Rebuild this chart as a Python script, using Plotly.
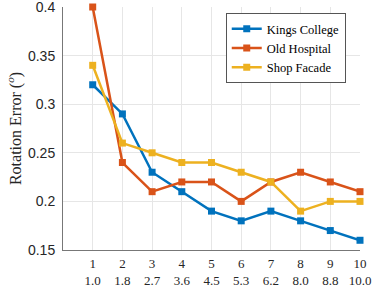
import plotly.graph_objects as go

x = [1, 2, 3, 4, 5, 6, 7, 8, 9, 10]
x_labels2 = ["1.0", "1.8", "2.7", "3.6", "4.5", "5.3", "6.2", "8.0", "8.8", "10.0"]
kings = [0.32, 0.29, 0.23, 0.21, 0.19, 0.18, 0.19, 0.18, 0.17, 0.16]
hospital = [0.40, 0.24, 0.21, 0.22, 0.22, 0.20, 0.22, 0.23, 0.22, 0.21]
shop = [0.34, 0.26, 0.25, 0.24, 0.24, 0.23, 0.22, 0.19, 0.20, 0.20]

series = [("Kings College", kings, "#0072BD"),
          ("Old Hospital", hospital, "#D95319"),
          ("Shop Facade", shop, "#EDB120")]

fig = go.Figure()
for name, vals, col in series:
    fig.add_trace(go.Scatter(x=x, y=vals, name=name, mode="lines+markers",
                             line=dict(color=col, width=2.5),
                             marker=dict(symbol="square", size=7, color=col),
                             cliponaxis=False))

serif = "Liberation Serif"
fig.update_layout(
    width=374, height=286,
    margin=dict(l=63, r=14, t=7, b=36),
    plot_bgcolor="white", paper_bgcolor="white",
    legend=dict(x=0.952, y=0.975, xanchor="right", yanchor="top",
                bgcolor="white", bordercolor="#555555", borderwidth=1,
                font=dict(family=serif, size=12.5, color="black"),
                tracegroupgap=0, itemwidth=30),
    xaxis=dict(range=[0, 10], tickmode="array", tickvals=x,
               ticktext=[f"{a}<br>{b}" for a, b in zip(x, x_labels2)],
               showgrid=True, gridcolor="#E6E6E6", gridwidth=1,
               showline=True, linecolor="#777777", linewidth=1,
               ticks="", zeroline=False, automargin=False,
               ticklabeloverflow="allow", ticklabelstandoff=1,
               tickfont=dict(family=serif, size=13, color="#262626")),
    yaxis=dict(range=[0.15, 0.4], tickvals=[0.15, 0.2, 0.25, 0.3, 0.35, 0.4],
               ticktext=["0.15", "0.2", "0.25", "0.3", "0.35", "0.4"],
               showgrid=True, gridcolor="#E6E6E6", gridwidth=1,
               showline=True, linecolor="#777777", linewidth=1,
               ticks="", zeroline=False, automargin=False, ticklabelstandoff=4,
               ticklabeloverflow="allow",
               tickfont=dict(family="Liberation Sans", size=14, color="#262626"),
               title=dict(text="Rotation Error (<sup><i>o</i></sup>)", standoff=2,
                          font=dict(family=serif, size=16, color="#262626"))),
)
fig.write_html("out.html", config={"displayModeBar": False},
               post_script="document.body.style.margin='0px';document.body.style.overflow='hidden';")
